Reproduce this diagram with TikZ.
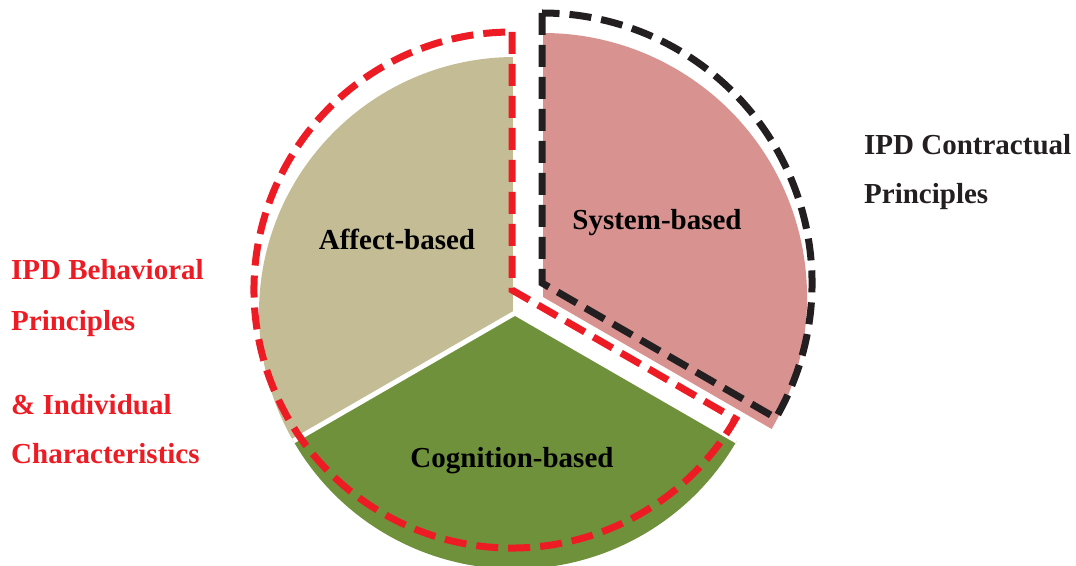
\documentclass[tikz,border=0pt]{standalone}
\usepackage{fontspec}
\setmainfont{Liberation Serif}
\definecolor{affect}{RGB}{195,188,148}
\definecolor{cognition}{RGB}{112,145,60}
\definecolor{systemc}{RGB}{216,146,144}
\definecolor{outlinered}{RGB}{237,28,36}
\definecolor{outlineblack}{RGB}{35,31,32}
\tikzset{
  sector/.style={draw=white, line width=5pt, line join=round},
  outlinedash/.style={line width=7pt, dash pattern=on 22pt off 10pt, line join=miter},
  sectorlabel/.style={anchor=base, inner sep=0pt, font=\fontsize{29}{35}\selectfont\bfseries, text=black},
  sidelabel/.style={anchor=base west, inner sep=0pt, font=\fontsize{29}{35}\selectfont\bfseries},
}
\begin{document}
\begin{tikzpicture}[x=1pt,y=1pt]
\useasboundingbox (0,0) rectangle (1076,565);

% pie centres
\coordinate (pc) at (515,252);   % affect / cognition
\coordinate (sc) at (543,268);   % exploded system sector
\coordinate (rc) at (512,275);   % red outline
\coordinate (bc) at (542,282);   % black outline

% sectors
\fill[affect] (pc) -- ++(90:256) arc[start angle=90, end angle=210, radius=256] -- cycle;
\fill[cognition] (pc) -- ++(210:256) arc[start angle=210, end angle=330, radius=256] -- cycle;
\draw[sector] (pc) -- ++(90:256);
\draw[sector] (pc) -- ++(210:256);
\draw[sector] (pc) -- ++(330:256);
\fill[systemc] (sc) -- ++(-30:264) arc[start angle=-30, end angle=90, radius=264] -- cycle;

% dashed outlines
\draw[outlinedash, outlinered] (rc) ++(90:258) coordinate (rtop) -- (rc) -- ++(-30:258)
  arc[start angle=-30, end angle=-270, radius=258];
\draw[outlinedash, outlineblack] (bc) ++(90:270) coordinate (btop) -- (bc) -- ++(-30:270)
  arc[start angle=-30, end angle=90, radius=270];

% sector labels
\node[sectorlabel] (affect) at (397,315) {Affect-based};
\node[sectorlabel] (system) at (657,335) {System-based};
\node[sectorlabel] (cognition) at (512,97) {Cognition-based};

% side labels
\node[sidelabel, text=outlineblack] (contr1) at (864,410) {IPD Contractual};
\node[sidelabel, text=outlineblack] (contr2) at (864,361) {Principles};
\node[sidelabel, text=outlinered] (behav1) at (11,285) {IPD Behavioral};
\node[sidelabel, text=outlinered] (behav2) at (11,234) {Principles};
\node[sidelabel, text=outlinered] (indiv1) at (11,150) {\& Individual};
\node[sidelabel, text=outlinered] (indiv2) at (11,101) {Characteristics};
\end{tikzpicture}
\end{document}
